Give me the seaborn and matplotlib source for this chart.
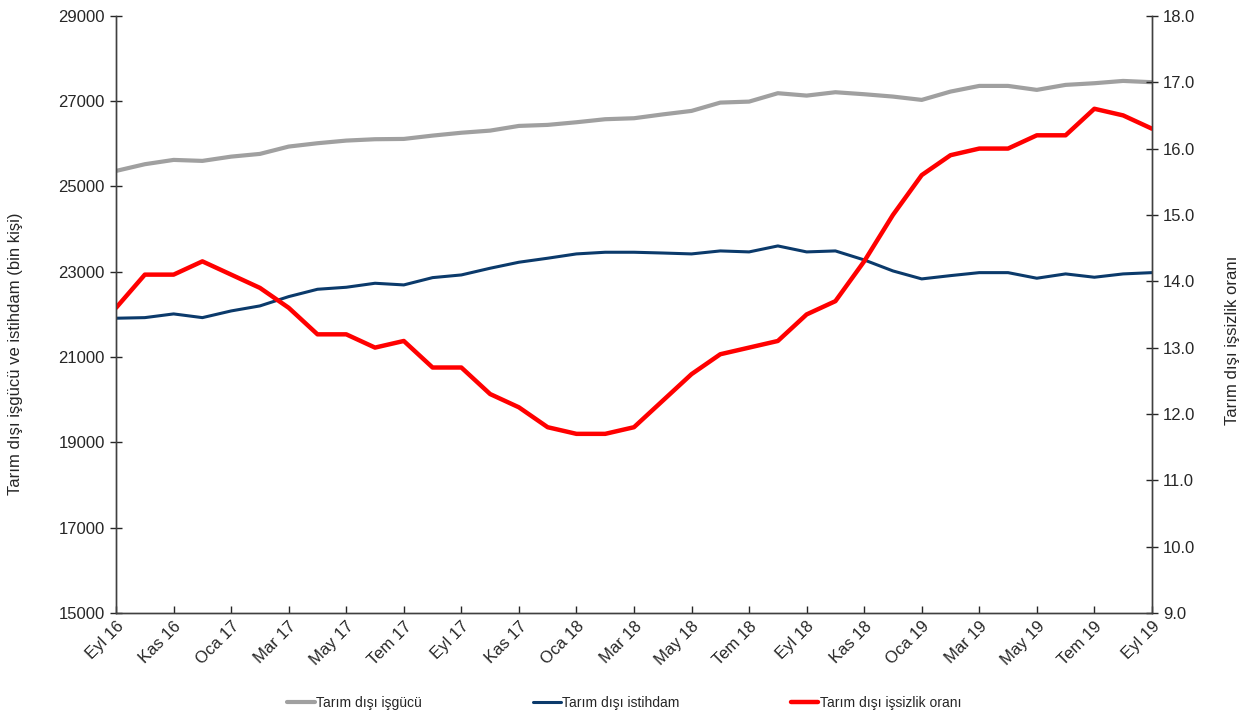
import numpy as np
import pandas as pd
import seaborn as sns
import matplotlib.pyplot as plt

# month labels (every month from Eyl 16 to Eyl 19), only every 2nd one shown
months = ['Eyl 16', 'Eki 16', 'Kas 16', 'Ara 16', 'Oca 17', 'Şub 17', 'Mar 17', 'Nis 17',
          'May 17', 'Haz 17', 'Tem 17', 'Ağu 17', 'Eyl 17', 'Eki 17', 'Kas 17', 'Ara 17',
          'Oca 18', 'Şub 18', 'Mar 18', 'Nis 18', 'May 18', 'Haz 18', 'Tem 18', 'Ağu 18',
          'Eyl 18', 'Eki 18', 'Kas 18', 'Ara 18', 'Oca 19', 'Şub 19', 'Mar 19', 'Nis 19',
          'May 19', 'Haz 19', 'Tem 19', 'Ağu 19', 'Eyl 19']

isgucu = [25365, 25522, 25623, 25600, 25700, 25764, 25936, 26014, 26076, 26108,
          26115, 26193, 26260, 26310, 26420, 26444, 26506, 26577, 26600, 26690,
          26772, 26967, 26990, 27187, 27131, 27210, 27163, 27108, 27030, 27225,
          27358, 27358, 27265, 27382, 27421, 27475, 27445]

istihdam = [21911, 21925, 22012, 21925, 22082, 22200, 22418, 22590, 22637, 22731,
            22692, 22863, 22926, 23083, 23224, 23318, 23419, 23458, 23458, 23440,
            23419, 23489, 23466, 23606, 23466, 23489, 23278, 23020, 22833, 22910,
            22980, 22980, 22849, 22950, 22872, 22950, 22980]

issizlik = [13.6, 14.1, 14.1, 14.3, 14.1, 13.9, 13.6, 13.2, 13.2, 13.0,
            13.1, 12.7, 12.7, 12.3, 12.1, 11.8, 11.7, 11.7, 11.8, 12.2,
            12.6, 12.9, 13.0, 13.1, 13.5, 13.7, 14.3, 15.0, 15.6, 15.9,
            16.0, 16.0, 16.2, 16.2, 16.6, 16.5, 16.3]

df = pd.DataFrame({'idx': np.arange(len(months)), 'isgucu': isgucu,
                   'istihdam': istihdam, 'issizlik': issizlik})

sns.set_style('white')
plt.rcParams['font.family'] = ['Liberation Sans', 'DejaVu Sans']

fig = plt.figure(figsize=(12.48, 7.22), dpi=100)
ax = fig.add_axes([0.093, 0.151, 0.830, 0.827])
ax2 = ax.twinx()

sns.lineplot(data=df, x='idx', y='isgucu', ax=ax, color='#a0a0a0', lw=3,
             label='Tarım dışı işgücü', legend=False)
sns.lineplot(data=df, x='idx', y='istihdam', ax=ax, color='#0b3a6b', lw=2.2,
             label='Tarım dışı istihdam', legend=False)
sns.lineplot(data=df, x='idx', y='issizlik', ax=ax2, color='#ff0000', lw=3.2,
             label='Tarım dışı işsizlik oranı', legend=False)

ax.set_xlim(0, len(months) - 1)
ax.set_ylim(15000, 29000)
ax.set_yticks(np.arange(15000, 29001, 2000))
ax2.set_ylim(9, 18)
ax2.set_yticks(np.arange(9, 18.01, 1))
ax2.set_yticklabels([f'{v:.1f}' for v in np.arange(9, 18.01, 1)])

ax.set_xticks(df['idx'][::2])
ax.set_xticklabels(months[::2], rotation=45, ha='right', rotation_mode='anchor')

ax.set_xlabel('')
ax.set_ylabel('Tarım dışı işgücü ve istihdam (bin kişi)', fontsize=12)
ax2.set_ylabel('Tarım dışı işsizlik oranı', fontsize=12, rotation=90)
# labels sit a bit below the middle in the original
ax.yaxis.set_label_coords(-0.0895, 0.434)
ax2.yaxis.set_label_coords(1.071, 0.456)

for a in (ax, ax2):
    for s in a.spines.values():
        s.set_color('#404040')
        s.set_linewidth(1)
    a.spines['top'].set_visible(False)
ax.tick_params(axis='y', direction='inout', length=8, width=1, labelsize=12, pad=4)
ax2.tick_params(axis='y', direction='inout', length=8, width=1, labelsize=12, pad=4)
ax.tick_params(axis='x', direction='in', length=5, width=1, labelsize=12, pad=4, bottom=True)

handles = ax.get_lines()[:2] + ax2.get_lines()[:1]
fig.legend(handles, [h.get_label() for h in handles], loc='lower center',
           bbox_to_anchor=(0.5, 0.0), ncol=3, frameon=False, fontsize=10,
           handlelength=2.0, handletextpad=0.1, columnspacing=8)

fig.savefig('out.png', dpi=100)
